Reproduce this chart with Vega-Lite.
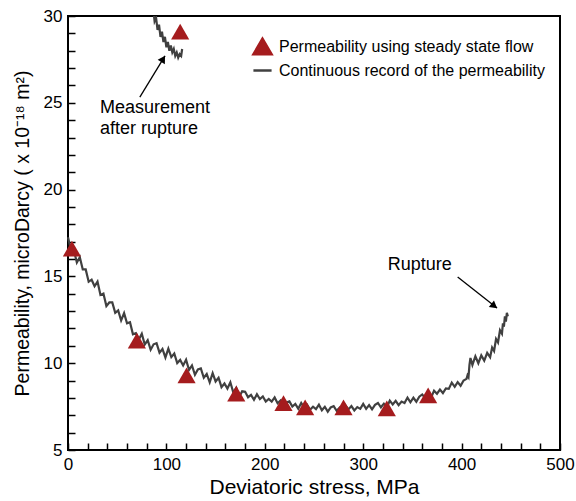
{
  "$schema": "https://vega.github.io/schema/vega-lite/v6.json",
  "width": 492,
  "height": 434,
  "autosize": {"type": "none"},
  "padding": {"left": 68, "top": 16, "right": 16, "bottom": 51},
  "background": "white",
  "config": {
    "font": "Liberation Sans",
    "view": {"stroke": "black", "strokeWidth": 2},
    "axis": {
      "grid": false,
      "domain": false,
      "labelFontSize": 17,
      "labelColor": "black",
      "titleFontSize": 20,
      "titleFontWeight": "normal",
      "titleColor": "black"
    }
  },
  "datasets": {
    "record": [
      {"x":0,"y":17.25},{"x":3,"y":16.5},{"x":6,"y":16.5},{"x":9,"y":15.8},{"x":12,"y":16.1},{"x":15,"y":15.4},{"x":18,"y":15.4},{"x":21,"y":14.69},{"x":24,"y":14.81},{"x":27,"y":14.43},
      {"x":30,"y":14.7},{"x":33,"y":13.93},{"x":36,"y":14.01},{"x":39,"y":13.29},{"x":42,"y":13.5},{"x":45,"y":13.5},{"x":48,"y":12.9},{"x":51,"y":13.04},{"x":54,"y":12.46},{"x":57,"y":12.88},
      {"x":60,"y":12.3},{"x":63,"y":12.36},{"x":66,"y":11.67},{"x":69,"y":11.73},{"x":72,"y":11.37},{"x":75,"y":11.7},{"x":78,"y":11.08},{"x":81,"y":11.32},{"x":84,"y":10.78},{"x":87,"y":11.09},
      {"x":90,"y":11.15},{"x":93,"y":10.61},{"x":96,"y":10.82},{"x":99,"y":10.33},{"x":102,"y":10.84},{"x":105,"y":10.35},{"x":108,"y":10.56},{"x":111,"y":10.01},{"x":114,"y":10.19},{"x":117,"y":9.87},
      {"x":120,"y":10.2},{"x":123,"y":9.61},{"x":126,"y":9.87},{"x":129,"y":9.33},{"x":132,"y":9.64},{"x":135,"y":9.7},{"x":138,"y":9.16},{"x":141,"y":9.38},{"x":144,"y":8.9},{"x":147,"y":9.43},
      {"x":150,"y":8.95},{"x":153,"y":9.16},{"x":156,"y":8.62},{"x":159,"y":8.83},{"x":162,"y":8.54},{"x":165,"y":8.9},{"x":168,"y":8.31},{"x":171,"y":8.58},{"x":174,"y":8.05},{"x":177,"y":8.38},
      {"x":180,"y":8.35},{"x":183,"y":8.04},{"x":186,"y":8.17},{"x":189,"y":7.89},{"x":192,"y":8.21},{"x":195,"y":7.94},{"x":198,"y":8.09},{"x":201,"y":7.79},{"x":204,"y":7.94},{"x":207,"y":7.79},
      {"x":210,"y":8.03},{"x":213,"y":7.69},{"x":216,"y":7.85},{"x":219,"y":7.54},{"x":222,"y":7.74},{"x":225,"y":7.8},{"x":228,"y":7.5},{"x":231,"y":7.65},{"x":234,"y":7.38},{"x":237,"y":7.71},
      {"x":240,"y":7.44},{"x":243,"y":7.61},{"x":246,"y":7.32},{"x":249,"y":7.49},{"x":252,"y":7.35},{"x":255,"y":7.61},{"x":258,"y":7.29},{"x":261,"y":7.49},{"x":264,"y":7.21},{"x":267,"y":7.45},
      {"x":270,"y":7.53},{"x":273,"y":7.26},{"x":276,"y":7.44},{"x":279,"y":7.2},{"x":282,"y":7.57},{"x":285,"y":7.34},{"x":288,"y":7.53},{"x":291,"y":7.28},{"x":294,"y":7.47},{"x":297,"y":7.37},
      {"x":300,"y":7.66},{"x":303,"y":7.37},{"x":306,"y":7.59},{"x":309,"y":7.34},{"x":312,"y":7.6},{"x":315,"y":7.71},{"x":318,"y":7.46},{"x":321,"y":7.67},{"x":324,"y":7.45},{"x":327,"y":7.84},
      {"x":330,"y":7.62},{"x":333,"y":7.83},{"x":336,"y":7.58},{"x":339,"y":7.79},{"x":342,"y":7.71},{"x":345,"y":8.02},{"x":348,"y":7.75},{"x":351,"y":8.01},{"x":354,"y":7.78},{"x":357,"y":8.07},
      {"x":360,"y":8.2},{"x":363,"y":7.98},{"x":366,"y":8.2},{"x":369,"y":8.01},{"x":372,"y":8.42},{"x":375,"y":8.24},{"x":378,"y":8.48},{"x":381,"y":8.28},{"x":384,"y":8.55},{"x":387,"y":8.52},
      {"x":390,"y":8.88},{"x":393,"y":8.64},{"x":396,"y":8.91},{"x":399,"y":8.7},{"x":402,"y":9.0},{"x":405,"y":9.1},{"x":406,"y":9.3},{"x":407,"y":9.2},{"x":408,"y":9.9},{"x":409,"y":10.3},
      {"x":411,"y":9.9},{"x":414,"y":10.4},{"x":417,"y":10.0},{"x":420,"y":10.45},{"x":423,"y":10.15},{"x":426,"y":10.6},{"x":429,"y":10.35},{"x":431,"y":10.9},{"x":433,"y":10.7},{"x":435,"y":11.4},
      {"x":437,"y":11.2},{"x":439,"y":11.9},{"x":441,"y":11.7},{"x":442,"y":12.3},{"x":443,"y":12.1},{"x":444,"y":12.7},{"x":445,"y":12.4},{"x":446,"y":12.9},{"x":447,"y":12.7}
    ],
    "after": [
      {"x":87,"y":30.2},{"x":88,"y":29.7},{"x":89.5,"y":29.9},{"x":91,"y":29.2},{"x":92.5,"y":29.5},{"x":94,"y":28.8},{"x":95.5,"y":29.1},{"x":97,"y":28.5},{"x":98.5,"y":28.8},{"x":100,"y":28.2},
      {"x":101.5,"y":28.5},{"x":103,"y":28.0},{"x":104.5,"y":28.3},{"x":106,"y":27.9},{"x":107.5,"y":28.1},{"x":109,"y":27.7},{"x":110.5,"y":27.9},{"x":112,"y":27.6},{"x":113.5,"y":27.8},{"x":115,"y":27.7},{"x":116,"y":28.1}
    ],
    "steady": [
      {"x":4,"y":16.6},{"x":70,"y":11.3},{"x":120.5,"y":9.3},{"x":171,"y":8.25},{"x":219,"y":7.7},{"x":241,"y":7.45},{"x":280,"y":7.45},{"x":324,"y":7.4},{"x":366,"y":8.15},{"x":114,"y":29.1}
    ],
    "notes": [
      {"x":32.5,"y":24.7,"text":"Measurement"},
      {"x":32.5,"y":23.5,"text":"after rupture"},
      {"x":325,"y":15.66,"text":"Rupture"}
    ],
    "arrows": [
      {"name":"m","x":73,"y":25.33,"x2":98.6,"y2":27.7,"hx":96.7,"hy":27.53},
      {"name":"r","x":396,"y":14.97,"x2":436,"y2":13.18,"hx":433.2,"hy":13.3}
    ]
  },
  "layer": [
    {
      "data": {"name": "record"},
      "mark": {"type": "line", "strokeWidth": 2.2, "interpolate": "linear"},
      "encoding": {
        "x": {"field": "x", "type": "quantitative", "scale": {"domain": [0, 500], "nice": false},
          "axis": {"title": "Deviatoric stress, MPa", "titleFontSize": 21, "tickCount": 25,
            "tickColor": "black", "tickWidth": 1.5, "tickSize": -7, "labelPadding": 13,
            "labelExpr": "datum.value % 100 === 0 ? datum.label : ''", "labelFlush": false, "titlePadding": 4}},
        "y": {"field": "y", "type": "quantitative", "scale": {"domain": [5, 30], "nice": false, "zero": false},
          "axis": {"title": "Permeability, microDarcy ( x 10⁻¹⁸ m²)", "titleFontSize": 19.5, "tickCount": 25,
            "tickColor": "black", "tickWidth": 1.5, "tickSize": -7, "labelPadding": 13,
            "labelExpr": "datum.value % 5 === 0 ? datum.label : ''", "labelFlush": false, "titlePadding": 11}},
        "color": {"datum": "Continuous record of the permeability", "type": "nominal",
          "scale": {"domain": ["Permeability using steady state flow", "Continuous record of the permeability"], "range": ["#a51c1e", "#404040"]},
          "legend": {
            "title": null, "orient": "none", "legendX": 184, "legendY": 20, "labelLimit": 400,
            "labelFontSize": 16, "labelColor": "black", "symbolSize": 330, "rowPadding": -1, "labelOffset": 6,
            "encode": {"symbols": {"update": {
              "shape": {"signal": "datum.value === 'Continuous record of the permeability' ? 'stroke' : 'triangle-up'"},
              "fill": {"signal": "datum.value === 'Continuous record of the permeability' ? 'transparent' : '#a51c1e'"},
              "stroke": {"signal": "datum.value === 'Continuous record of the permeability' ? '#333333' : 'transparent'"},
              "strokeWidth": {"value": 2.5},
              "opacity": {"value": 1}
            }}}
          }}
      }
    },
    {
      "data": {"name": "after"},
      "mark": {"type": "line", "strokeWidth": 2.2, "color": "#404040", "clip": true},
      "encoding": {
        "x": {"field": "x", "type": "quantitative"},
        "y": {"field": "y", "type": "quantitative"}
      }
    },
    {
      "data": {"name": "steady"},
      "mark": {"type": "point", "shape": "triangle-up", "filled": true, "size": 330, "opacity": 1},
      "encoding": {
        "x": {"field": "x", "type": "quantitative"},
        "y": {"field": "y", "type": "quantitative"},
        "color": {"datum": "Permeability using steady state flow", "type": "nominal"}
      }
    },
    {
      "data": {"name": "notes"},
      "mark": {"type": "text", "align": "left", "baseline": "middle", "fontSize": 18, "color": "black"},
      "encoding": {
        "x": {"field": "x", "type": "quantitative"},
        "y": {"field": "y", "type": "quantitative"},
        "text": {"field": "text"}
      }
    },
    {
      "data": {"name": "arrows"},
      "mark": {"type": "rule", "color": "black", "strokeWidth": 1.3},
      "encoding": {
        "x": {"field": "x", "type": "quantitative"},
        "y": {"field": "y", "type": "quantitative"},
        "x2": {"field": "x2"},
        "y2": {"field": "y2"}
      }
    },
    {
      "data": {"name": "arrows"},
      "transform": [{"filter": "datum.name === 'm'"}],
      "mark": {"type": "point", "shape": "triangle-up", "filled": true, "size": 70, "color": "black", "opacity": 1, "angle": 31.5},
      "encoding": {
        "x": {"field": "hx", "type": "quantitative"},
        "y": {"field": "hy", "type": "quantitative"}
      }
    },
    {
      "data": {"name": "arrows"},
      "transform": [{"filter": "datum.name === 'r'"}],
      "mark": {"type": "point", "shape": "triangle-up", "filled": true, "size": 70, "color": "black", "opacity": 1, "angle": 128},
      "encoding": {
        "x": {"field": "hx", "type": "quantitative"},
        "y": {"field": "hy", "type": "quantitative"}
      }
    }
  ]
}
